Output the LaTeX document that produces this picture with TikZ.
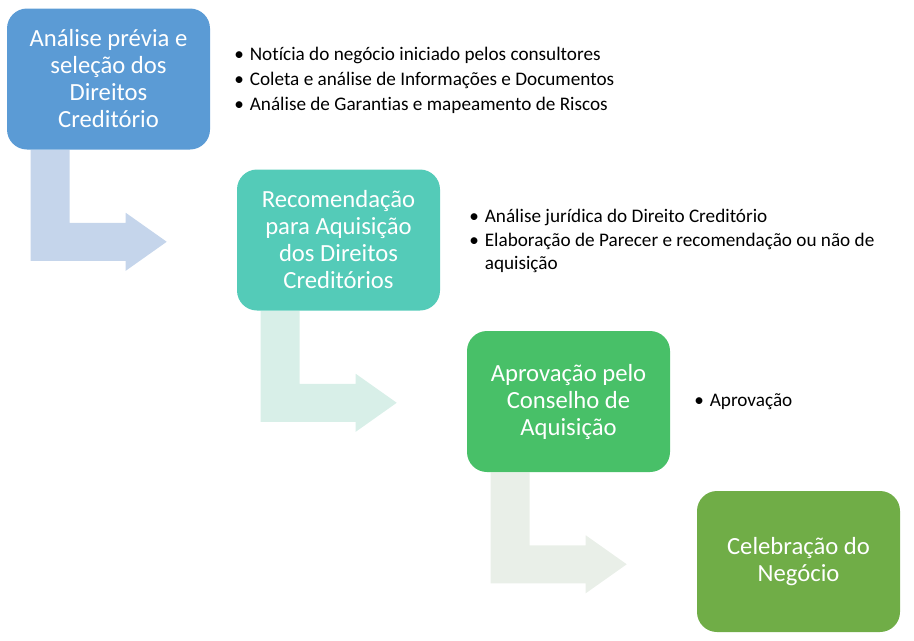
\documentclass[tikz,border=0pt]{standalone}
\usepackage{fontspec}
\setmainfont{Carlito}[Ligatures=NoCommon]
\usepackage{tikz}
\usetikzlibrary{calc,backgrounds}
\definecolor{passoA}{HTML}{5B9BD5}
\definecolor{passoB}{HTML}{54CBB8}
\definecolor{passoC}{HTML}{48C068}
\definecolor{passoD}{HTML}{70AD47}
\definecolor{setaA}{HTML}{C5D5EB}
\definecolor{setaB}{HTML}{D8EFE8}
\definecolor{setaC}{HTML}{E9EFE8}
\newcommand{\topico}{\textbullet\hspace{4.5pt}}
\newcommand{\recuo}{\phantom{\textbullet}\hspace{4.5pt}}

\begin{document}
\begin{tikzpicture}[x=0.75pt,y=-0.75pt,
  passo/.style={rounded corners=15pt, minimum width=152.25pt, minimum height=105.75pt,
    inner sep=0pt, text=white, align=center, font=\fontsize{18.5}{20.25}\selectfont},
  itens/.style={anchor=west, inner sep=0pt, align=left, font=\fontsize{14.4}{18.75}\selectfont}]
\useasboundingbox (0,0) rectangle (914,640);

\node[passo, fill=passoA] (analise) at (108.5,79) {Análise prévia e\\seleção dos\\Direitos\\Creditório};
\node[passo, fill=passoB] (recomendacao) at (338.5,240) {Recomendação\\para Aquisição\\dos Direitos\\Creditórios};
\node[passo, fill=passoC] (aprovacao) at (568.5,401.5) {Aprovação pelo\\Conselho de\\Aquisição};
\node[passo, fill=passoD] (celebracao) at (798.5,561.5) {Celebração do\\Negócio};

\node[itens] (lista1) at (234,80) {\topico Notícia do negócio iniciado pelos consultores\\
  \topico Coleta e análise de Informações e Documentos\\
  \topico Análise de Garantias e mapeamento de Riscos};
\node[itens, font=\fontsize{14.4}{17.8}\selectfont] (lista2) at (469,241) {\topico Análise jurídica do Direito Creditório\\
  \topico Elaboração de Parecer e recomendação ou não de\\
  \recuo aquisição};
\node[itens] (lista3) at (694,401.5) {\topico Aprovação};

% setas dobradas entre os passos
\begin{scope}[on background layer]
\fill[setaA] ($(analise.south west)+(24,0)$) -- ++(39,0) -- ++(0,73) -- ++(56,0) -- ++(0,-10)
  -- ++(41,29) -- ++(-41,29) -- ++(0,-10) -- ++(-95,0) -- cycle;
\fill[setaB] ($(recomendacao.south west)+(24,0)$) -- ++(39,0) -- ++(0,73) -- ++(56,0) -- ++(0,-10)
  -- ++(41,29) -- ++(-41,29) -- ++(0,-10) -- ++(-95,0) -- cycle;
\fill[setaC] ($(aprovacao.south west)+(24,0)$) -- ++(39,0) -- ++(0,73) -- ++(56,0) -- ++(0,-10)
  -- ++(41,29) -- ++(-41,29) -- ++(0,-10) -- ++(-95,0) -- cycle;
\end{scope}
\end{tikzpicture}
\end{document}
